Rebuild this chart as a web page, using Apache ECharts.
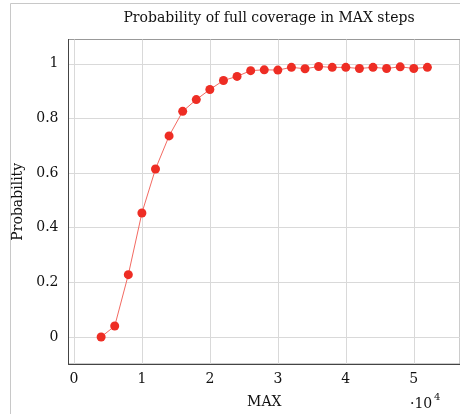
<!DOCTYPE html>
<html>
<head>
<meta charset="utf-8">
<script src="https://cdn.jsdelivr.net/npm/echarts@6/dist/echarts.min.js"></script>
<style>
html,body{margin:0;padding:0;background:#fff;}
#chart{width:460px;height:414px;}
</style>
</head>
<body>
<div id="chart"></div>
<script>
const maxSteps = [4000, 6000, 8000, 10000, 12000, 14000, 16000, 18000, 20000, 22000, 24000, 26000, 28000, 30000, 32000, 34000, 36000, 38000, 40000, 42000, 44000, 46000, 48000, 50000, 52000];
const probability = [0.000, 0.040, 0.228, 0.454, 0.615, 0.736, 0.826, 0.869, 0.906, 0.939, 0.954, 0.975, 0.978, 0.977, 0.987, 0.982, 0.990, 0.987, 0.987, 0.983, 0.987, 0.983, 0.989, 0.983, 0.987];
const xTicks = [0, 10000, 20000, 30000, 40000, 50000];
const yTicks = [0, 0.2, 0.4, 0.6, 0.8, 1];

const FONT = '"DejaVu Serif", "Liberation Serif", serif';
const chart = echarts.init(document.getElementById('chart'), null, {renderer: 'canvas'});
chart.setOption({
  animation: false,
  backgroundColor: '#fff',
  title: {
    text: 'Probability of full coverage in MAX steps',
    left: 264, top: 6, textAlign: 'center',
    textStyle: {fontFamily: FONT, fontSize: 14, fontWeight: 'normal', color: '#111'}
  },
  graphic: [
    {type: 'line', shape: {x1: 10.5, y1: 3.5, x2: 460, y2: 3.5}, style: {stroke: '#c8c8c8', lineWidth: 1}},
    {type: 'line', shape: {x1: 10.5, y1: 3.5, x2: 10.5, y2: 414}, style: {stroke: '#c8c8c8', lineWidth: 1}},
    {type: 'text', left: 410, top: 397, style: {text: '·10', font: '14px ' + FONT, fill: '#111'}},
    {type: 'text', left: 434, top: 392, style: {text: '4', font: '10px ' + FONT, fill: '#111'}}
  ],
  grid: {left: 68.5, right: -1, top: 39.5, bottom: 46, show: true, borderColor: '#999', borderWidth: 1},
  xAxis: {
    type: 'value', min: -800, max: 56800,
    name: 'MAX', nameLocation: 'middle', nameGap: 31,
    nameTextStyle: {fontFamily: FONT, fontSize: 14, color: '#111'},
    axisLine: {show: true, onZero: false, lineStyle: {color: '#444', width: 1}},
    axisTick: {show: false, customValues: xTicks},
    axisLabel: {customValues: xTicks, formatter: v => String(Math.round(v / 10000)), fontFamily: FONT, fontSize: 14, color: '#111', margin: 8},
    splitLine: {show: true, lineStyle: {color: '#d9d9d9', width: 1}}
  },
  yAxis: {
    type: 'value', min: -0.099, max: 1.089,
    name: 'Probability', nameLocation: 'middle', nameGap: 40, nameRotate: 90,
    nameTextStyle: {fontFamily: FONT, fontSize: 14, color: '#111'},
    axisLine: {show: true, onZero: false, lineStyle: {color: '#444', width: 1}},
    axisTick: {show: false, customValues: yTicks},
    axisLabel: {customValues: yTicks, formatter: v => String(Math.round(v * 10) / 10), fontFamily: FONT, fontSize: 14, color: '#111', margin: 10},
    splitLine: {show: true, lineStyle: {color: '#d9d9d9', width: 1}}
  },
  series: [{
    type: 'line',
    data: maxSteps.map((x, i) => [x, probability[i]]),
    symbol: 'circle', symbolSize: 9,
    itemStyle: {color: '#ee2d24'},
    lineStyle: {color: '#f36a62', width: 1}
  }]
});
</script>
</body>
</html>
